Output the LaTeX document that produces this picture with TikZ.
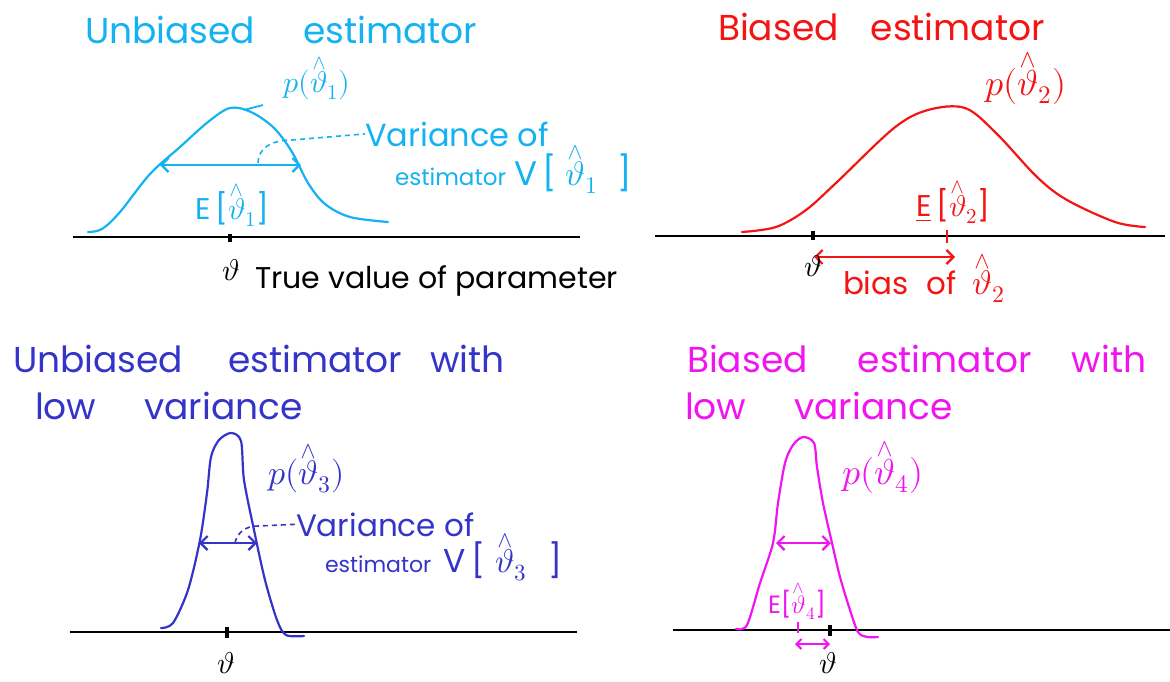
\documentclass[tikz,border=0pt]{standalone}
\usepackage{fontspec}
\usepackage{unicode-math}
\setmainfont{Poppins}
\setmathfont{Latin Modern Math}
\usetikzlibrary{arrows.meta}
\definecolor{cy}{RGB}{20,178,240}
\definecolor{rd}{RGB}{245,20,20}
\definecolor{bl}{RGB}{52,52,200}
\definecolor{mg}{RGB}{240,20,240}
\newcommand\myfs[1]{\fontsize{#1}{#1}\selectfont}
\newcommand\gap[1]{\hspace{#1pt}}
\newcommand\hth{\mathord{\vbox{\offinterlineskip\halign{\hfil##\hfil\cr$\scriptstyle\wedge$\cr\noalign{\kern1pt}$\vartheta$\cr}}}}
\tikzset{
  curve/.style={line width=2.2pt, line join=round, line cap=round},
  axis/.style={line width=2pt, black},
  tickmark/.style={line width=3.5pt},
  dbl/.style={line width=2.2pt, {Straight Barb[length=7pt,width=14pt]}-{Straight Barb[length=7pt,width=14pt]}},
  lead/.style={line width=1.6pt, dash pattern=on 5pt off 4pt},
  lbl/.style={anchor=base west, inner sep=0pt, outer sep=0pt},
  ttl/.style={lbl, font=\myfs{36}},
  mid/.style={lbl, font=\myfs{31}},
}
\begin{document}
\begin{tikzpicture}[x=1pt,y=-1pt]
\useasboundingbox (0,0) rectangle (1170,681);
% ---------------- Panel 1 (cyan) ----------------
\node[ttl,cy] (t1) at (85,43) {Unbiased\gap{48}estimator};
\coordinate (a1l) at (73,237); \coordinate (a1r) at (580,237);
\draw[axis] (a1l) -- (a1r);
\coordinate (k1a) at (230,234); \coordinate (k1b) at (230,242);
\draw[tickmark] (k1a) -- (k1b);
\draw[cy,curve] plot[smooth,tension=0.55] coordinates {(88,232) (102,229) (120,212) (150,174) (180,147) (208,122) (230,108) (251,112) (274,128) (292,152) (308,183) (325,204) (350,217) (388,222)};
\coordinate (r1l) at (160,165); \coordinate (r1r) at (301,165);
\draw[cy,dbl] (r1l) -- (r1r);
\node[lbl,cy,font=\myfs{30}] (p1) at (283,92) {$p(\hth_1)$};
\coordinate (q1a) at (244,110); \coordinate (q1b) at (263,105);
\draw[cy,line width=1.8pt] (q1a) -- (q1b);
\node[lbl,cy,font=\myfs{32}] (v1a) at (365,146) {Variance of};
\node[lbl,cy,font=\myfs{34}] (v1b) at (395,185) {{\myfs{23}estimator}\gap{8}V\,[\gap{8}$\hth_1$\gap{20}]};
\coordinate (m1) at (258,163);
\draw[cy,lead] (m1) .. controls (258,148) and (272,140) .. (292,140) -- (v1a.west);
\node[lbl,cy,font=\myfs{30}] (e1) at (195,219) {E\,[$\hth_1$]};
\node[lbl,font=\myfs{30}] (th1) at (222,280) {$\vartheta$};
\node[lbl,font=\myfs{30}] (tv1) at (255,288) {True value of parameter};
% ---------------- Panel 2 (red) ----------------
\node[ttl,rd] (t2) at (718,40) {Biased\gap{32}estimator};
\coordinate (a2l) at (655,236); \coordinate (a2r) at (1165,236);
\draw[axis] (a2l) -- (a2r);
\coordinate (k2a) at (813,231); \coordinate (k2b) at (813,240);
\draw[tickmark] (k2a) -- (k2b);
\coordinate (e2a) at (947,230); \coordinate (e2b) at (947,243);
\draw[rd,line width=2pt] (e2a) -- (e2b);
\draw[rd,curve] plot[smooth,tension=0.55] coordinates {(742,232) (776,227) (806,210) (837,182) (894,128) (928,110) (965,108) (996,133) (1037,177) (1067,200) (1115,222) (1145,227)};
\coordinate (b2l) at (814,257); \coordinate (b2r) at (955,257);
\draw[rd,dbl] (b2l) -- (b2r);
\node[lbl,rd,font=\myfs{36}] (p2) at (985,95) {$p(\hth_2)$};
\node[lbl,rd,font=\myfs{30}] (e2) at (916,216) {\underline{E}\,[$\hth_2$]};
\node[lbl,rd,font=\myfs{31}] (bias2) at (843,294) {bias\gap{18}of\gap{16}{\myfs{34}$\hth_2$}};
\node[lbl,font=\myfs{30}] (th2) at (804,276) {$\vartheta$};
% ---------------- Panel 3 (blue) ----------------
\node[ttl,bl] (t3a) at (13,372) {Unbiased\gap{45}estimator\gap{28}with};
\node[ttl,bl] (t3b) at (35,419) {low\gap{48}variance};
\coordinate (a3l) at (70,632); \coordinate (a3r) at (577,632);
\draw[axis] (a3l) -- (a3r);
\coordinate (k3a) at (227,627); \coordinate (k3b) at (227,638);
\draw[tickmark] (k3a) -- (k3b);
\draw[bl,curve] plot[smooth,tension=0.5] coordinates {(161,628) (173,623) (188,590) (200,540) (207,493) (211,457) (219,440) (231,433) (241,441) (244,480) (254,530) (265,580) (277,620) (286,635) (304,636)};
\coordinate (r3l) at (199,543); \coordinate (r3r) at (257,543);
\draw[bl,dbl] (r3l) -- (r3r);
\node[lbl,bl,font=\myfs{34}] (p3) at (268,484) {$p(\hth_3)$};
\node[mid,bl] (v3a) at (296,536) {Variance of};
\node[lbl,bl,font=\myfs{33}] (v3b) at (325,572) {{\myfs{22}estimator}\gap{12}V\,[\gap{10}$\hth_3$\gap{22}]};
\coordinate (m3) at (235,543);
\draw[bl,lead] (m3) .. controls (237,533) and (245,526) .. (258,526) -- (v3a.west);
\node[lbl,font=\myfs{30}] (th3) at (217,673) {$\vartheta$};
% ---------------- Panel 4 (magenta) ----------------
\node[ttl,mg] (t4a) at (687,372) {Biased\gap{50}estimator\gap{40}with};
\node[ttl,mg] (t4b) at (685,419) {low\gap{48}variance};
\coordinate (a4l) at (673,630); \coordinate (a4r) at (1170,630);
\draw[axis] (a4l) -- (a4r);
\coordinate (k4a) at (830,625); \coordinate (k4b) at (830,636);
\draw[tickmark] (k4a) -- (k4b);
\coordinate (e4a) at (798,622); \coordinate (e4b) at (798,633);
\draw[mg,line width=2pt] (e4a) -- (e4b);
\draw[mg,curve] plot[smooth,tension=0.5] coordinates {(736,629) (747,625) (760,583) (773,543) (778,503) (785,463) (793,445) (803,437) (814,443) (817,467) (823,503) (832,543) (840,577) (850,610) (858,632) (867,637) (878,637)};
\coordinate (r4l) at (776,543); \coordinate (r4r) at (831,543);
\draw[mg,dbl] (r4l) -- (r4r);
\coordinate (b4l) at (795,644); \coordinate (b4r) at (830,644);
\draw[mg,line width=2pt,{Straight Barb[length=5pt,width=10pt]}-{Straight Barb[length=5pt,width=10pt]}] (b4l) -- (b4r);
\node[lbl,mg,font=\myfs{36}] (p4) at (842,484) {$p(\hth_4)$};
\node[lbl,mg,font=\myfs{25}] (e4) at (768,613) {E[$\hth_4$]};
\node[lbl,font=\myfs{30}] (th4) at (819,673) {$\vartheta$};
\end{tikzpicture}
\end{document}
